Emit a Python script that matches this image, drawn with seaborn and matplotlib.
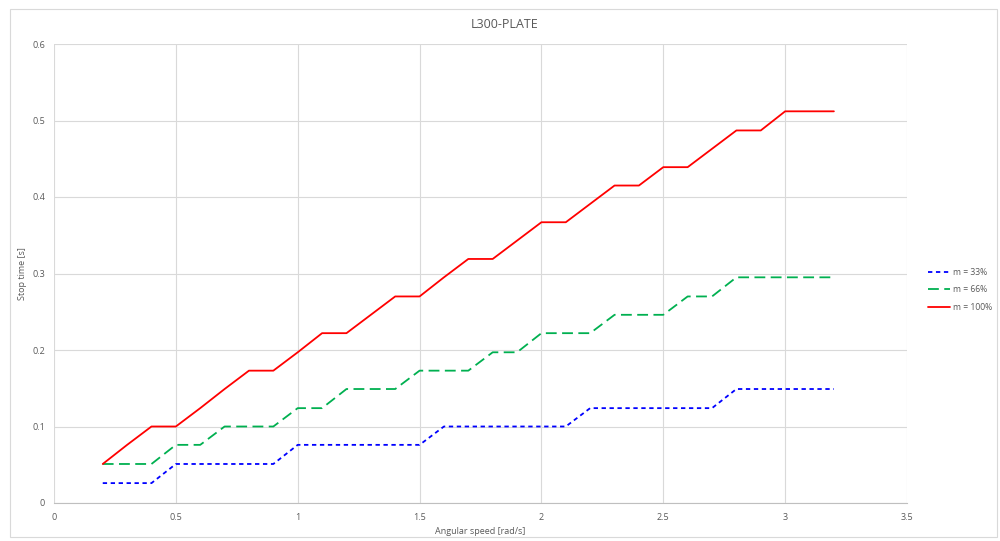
import numpy as np
import pandas as pd
import matplotlib
matplotlib.use("Agg")
import matplotlib.pyplot as plt
import seaborn as sns
from matplotlib.patches import Rectangle

speed = [0.2, 0.3, 0.4, 0.5, 0.6, 0.7, 0.8, 0.9, 1.0, 1.1, 1.2, 1.3, 1.4, 1.5, 1.6,
         1.7, 1.8, 1.9, 2.0, 2.1, 2.2, 2.3, 2.4, 2.5, 2.6, 2.7, 2.8, 2.9, 3.0, 3.1, 3.2]

m33 = [0.026, 0.026, 0.026, 0.051, 0.051, 0.051, 0.051, 0.051, 0.076, 0.076, 0.076,
       0.076, 0.076, 0.076, 0.100, 0.100, 0.100, 0.100, 0.100, 0.100, 0.124, 0.124,
       0.124, 0.124, 0.124, 0.124, 0.149, 0.149, 0.149, 0.149, 0.149]

m66 = [0.051, 0.051, 0.051, 0.076, 0.076, 0.100, 0.100, 0.100, 0.124, 0.124, 0.149,
       0.149, 0.149, 0.173, 0.173, 0.173, 0.197, 0.197, 0.222, 0.222, 0.222, 0.246,
       0.246, 0.246, 0.270, 0.270, 0.295, 0.295, 0.295, 0.295, 0.295]

m100 = [0.051, 0.076, 0.100, 0.100, 0.124, 0.149, 0.173, 0.173, 0.197, 0.222, 0.222,
        0.246, 0.270, 0.270, 0.295, 0.319, 0.319, 0.343, 0.367, 0.367, 0.391, 0.415,
        0.415, 0.439, 0.439, 0.463, 0.487, 0.487, 0.512, 0.512, 0.512]

series_names = ["m = 33%", "m = 66%", "m = 100%"]
x_ticks = [0, 0.5, 1, 1.5, 2, 2.5, 3, 3.5]
x_tick_labels = ["0", "0.5", "1", "1.5", "2", "2.5", "3", "3.5"]
y_ticks = [0, 0.1, 0.2, 0.3, 0.4, 0.5, 0.6]
y_tick_labels = ["0", "0.1", "0.2", "0.3", "0.4", "0.5", "0.6"]

df = pd.concat([
    pd.DataFrame({"speed": speed, "time": vals, "series": name})
    for name, vals in zip(series_names, [m33, m66, m100])
], ignore_index=True)

sns.set_theme(style="white")
plt.rcParams["font.family"] = ["Open Sans", "DejaVu Sans"]

W, H = 1000, 541
fig = plt.figure(figsize=(W / 100, H / 100), dpi=100)
ax = fig.add_axes([54 / W, 1 - 503 / H, (907 - 54) / W, (503 - 44) / H])

palette = {"m = 33%": "#0000FF", "m = 66%": "#00B050", "m = 100%": "#FF0000"}
dashes = {"m = 33%": (2.4, 2.0), "m = 66%": (6.0, 3.0), "m = 100%": ""}

sns.lineplot(data=df, x="speed", y="time", hue="series", style="series",
             palette=palette, dashes=dashes, hue_order=series_names,
             style_order=series_names, linewidth=1.3, ax=ax, legend=True)

ax.set_xlim(0, 3.5)
ax.set_ylim(0, 0.6)
ax.set_xticks(x_ticks)
ax.set_xticklabels(x_tick_labels)
ax.set_yticks(y_ticks)
ax.set_yticklabels(y_tick_labels)
ax.grid(True, color="#d9d9d9", linewidth=0.8)
ax.set_axisbelow(True)
for s in ["top", "right", "left"]:
    ax.spines[s].set_visible(False)
ax.spines["bottom"].set_color("#bfbfbf")
ax.spines["bottom"].set_linewidth(0.8)
ax.tick_params(axis="both", length=0, labelsize=6.5, labelcolor="#595959")
ax.tick_params(axis="x", pad=7)
ax.tick_params(axis="y", pad=6.5)
ax.set_xlabel("Angular speed [rad/s]", fontsize=6.5, color="#595959")
ax.set_ylabel("Stop time [s]", fontsize=6.5, color="#595959")
ax.xaxis.set_label_coords(0.5, (503 - 527) / (503 - 44))
ax.yaxis.set_label_coords((27 - 54) / (907 - 54), 0.5)

leg = ax.legend(loc="center left", bbox_to_anchor=(922 / W, 1 - 290 / H),
                bbox_transform=fig.transFigure, frameon=False, fontsize=6.2,
                handlelength=2.6, handletextpad=0.3, labelspacing=1.0,
                borderpad=0.2)
for t in leg.get_texts():
    t.set_color("#595959")

fig.text(0.505, 1 - 25 / H, "L300-PLATE", ha="center", va="center",
         fontsize=9, color="#595959")

fig.patches.append(Rectangle((10 / W, 1 - 537 / H), (997 - 10) / W, (537 - 9) / H,
                             transform=fig.transFigure, fill=False,
                             edgecolor="#d9d9d9", linewidth=0.8))

fig.savefig("out.png", dpi=100)
